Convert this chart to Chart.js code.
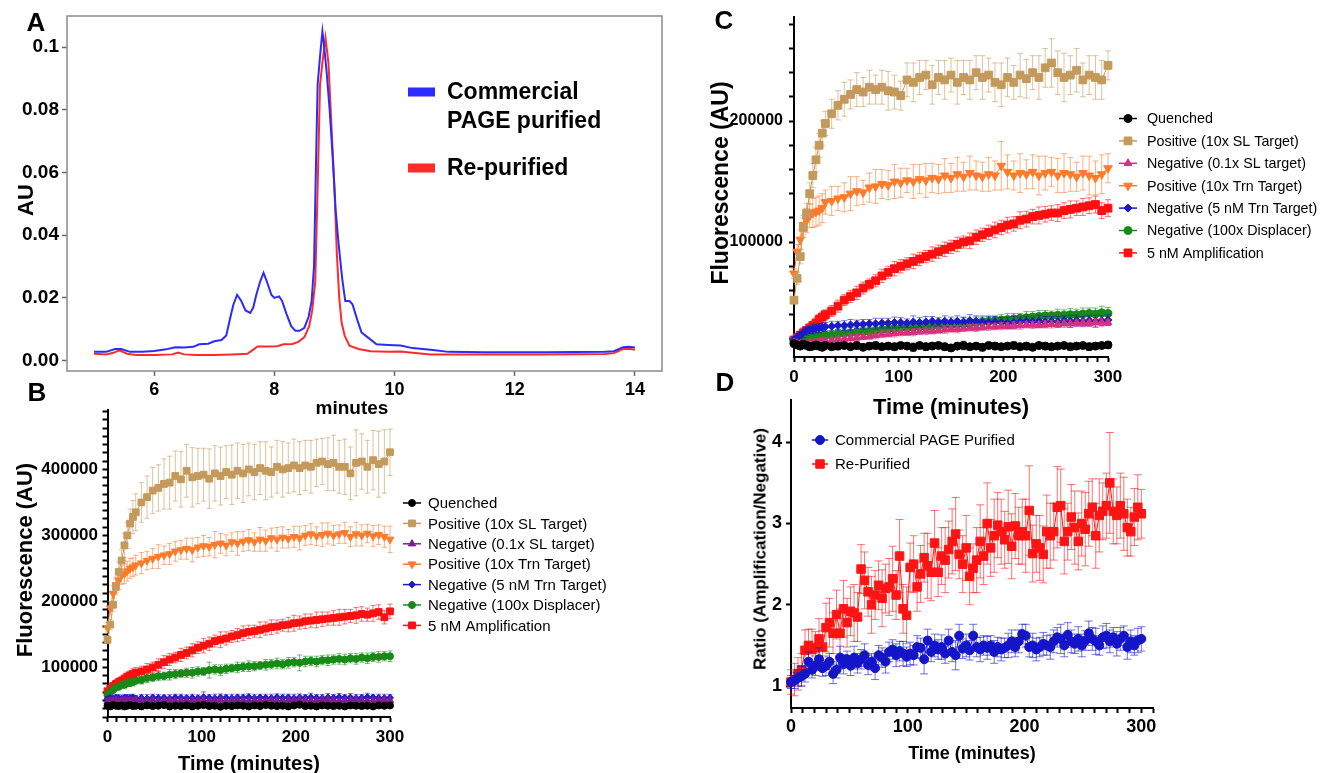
<!DOCTYPE html>
<html>
<head>
<meta charset="utf-8">
<script src="https://cdn.jsdelivr.net/npm/chart.js@4.4.1/dist/chart.umd.min.js"></script>
<style>
  html, body { margin: 0; padding: 0; background: #fff; }
  body { width: 1322px; height: 773px; position: relative; overflow: hidden;
         font-family: "Liberation Sans", Arial, sans-serif; }
  canvas { position: absolute; left: 0; top: 0; }
  .lbl { position: absolute; transform: translate(-50%, -50%); white-space: nowrap;
         font-weight: bold; color: #000; line-height: 1; z-index: 5; }
  .rot { transform: translate(-50%, -50%) rotate(-90deg); }
</style>
</head>
<body>
<canvas id="chartA" width="1322" height="773"></canvas>
<canvas id="chartB" width="1322" height="773"></canvas>
<canvas id="chartC" width="1322" height="773"></canvas>
<canvas id="chartD" width="1322" height="773"></canvas>

<div class="lbl" style="left:36px;top:22px;font-size:26px">A</div>
<div class="lbl" style="left:37px;top:392px;font-size:26px">B</div>
<div class="lbl" style="left:724px;top:20px;font-size:26px">C</div>
<div class="lbl" style="left:725px;top:382px;font-size:26px">D</div>
<div class="lbl rot" style="left:26px;top:200px;font-size:22px">AU</div>
<div class="lbl" style="left:352px;top:407px;font-size:19px">minutes</div>
<div class="lbl rot" style="left:25px;top:560px;font-size:22px">Fluorescence (AU)</div>
<div class="lbl" style="left:249px;top:763px;font-size:20px">Time (minutes)</div>
<div class="lbl rot" style="left:720px;top:183px;font-size:23px">Fluorescence (AU)</div>
<div class="lbl" style="left:951px;top:407px;font-size:22px">Time (minutes)</div>
<div class="lbl rot" style="left:760px;top:549px;font-size:17px">Ratio (Amplification/Negative)</div>
<div class="lbl" style="left:972px;top:753px;font-size:18px">Time (minutes)</div>

<script>
// ---------- panel A : chromatogram ----------
const aBlueX = [5.0,5.2,5.35,5.45,5.6,5.8,6.0,6.2,6.35,6.5,6.65,6.75,6.9,7.0,7.12,7.2,7.27,7.32,7.38,7.45,7.52,7.6,7.65,7.7,7.76,7.82,7.88,7.95,8.0,8.08,8.13,8.2,8.28,8.35,8.42,8.5,8.57,8.62,8.66,8.69,8.72,8.76,8.8,8.83,8.87,8.92,8.97,9.02,9.07,9.13,9.18,9.25,9.3,9.38,9.45,9.55,9.7,9.9,10.1,10.3,10.6,10.9,11.5,12.5,13.5,13.65,13.8,13.9,14.0];
const aBlueY = [0.0028,0.0028,0.0037,0.0037,0.0028,0.0028,0.0031,0.0036,0.0043,0.0042,0.0044,0.0052,0.0054,0.0062,0.0066,0.008,0.014,0.018,0.021,0.019,0.016,0.0152,0.017,0.021,0.025,0.028,0.025,0.021,0.020,0.0205,0.019,0.015,0.011,0.0095,0.0095,0.0105,0.014,0.019,0.03,0.06,0.088,0.097,0.105,0.1,0.092,0.08,0.065,0.048,0.037,0.026,0.019,0.019,0.018,0.013,0.009,0.0075,0.0052,0.005,0.0048,0.004,0.0035,0.0028,0.0027,0.0027,0.0028,0.003,0.0043,0.0044,0.0042];
const aRedX = [5.0,5.2,5.32,5.42,5.55,5.7,6.0,6.3,6.4,6.5,6.7,7.0,7.3,7.55,7.65,7.72,7.9,8.05,8.15,8.3,8.4,8.5,8.58,8.63,8.68,8.72,8.76,8.8,8.85,8.9,8.95,9.0,9.04,9.08,9.12,9.17,9.25,9.4,9.6,9.9,10.1,10.3,10.6,11.5,12.5,13.5,13.65,13.8,13.9,14.0];
const aRedY = [0.0022,0.002,0.0025,0.0033,0.0022,0.0018,0.0018,0.002,0.0026,0.002,0.0018,0.0018,0.002,0.0022,0.0035,0.0045,0.0045,0.0046,0.0052,0.0053,0.006,0.0075,0.011,0.016,0.025,0.055,0.088,0.095,0.103,0.095,0.075,0.055,0.034,0.02,0.012,0.008,0.0048,0.0037,0.003,0.0028,0.0029,0.0025,0.002,0.002,0.002,0.0021,0.0024,0.0037,0.0038,0.0035];
const aXTicks = [6, 8, 10, 12, 14];
const aYTicks = [0, 0.02, 0.04, 0.06, 0.08, 0.1];
const aYLabels = ['0.00', '0.02', '0.04', '0.06', '0.08', '0.1'];
const aLegendLines = [['Commercial', 'PAGE purified'], ['Re-purified']];

// ---------- panels B and C : time courses ----------
const seriesLabels = ['Quenched', 'Positive (10x SL Target)', 'Negative (0.1x SL target)',
  'Positive (10x Trn Target)', 'Negative (5 nM Trn Target)', 'Negative (100x Displacer)', '5 nM Amplification'];

const timeBC = [0,3,6,9,12,15,18,21,24,27,30,
  36,42,48,54,60,66,72,78,84,
  90,96,102,108,114,120,126,132,138,
  144,150,156,162,168,174,180,186,192,
  198,204,210,216,222,228,234,240,246,
  252,258,264,270,276,282,288,294,300];

const bQuenched = [42000,41000,43000,42000,41500,42500,41000,42000,43000,41500,42000,
  41000,42500,41500,42000,43000,41000,42000,41500,42500,
  41000,42000,43000,41500,42000,40500,42000,41500,42500,
  42000,41000,42500,41500,43000,42000,41500,42000,41000,
  42500,43500,41500,42000,41000,42500,42000,41500,42000,
  41000,42500,42000,41500,42000,41000,42500,42000,42500];
const bQuenchedErr = [3000,2500,3000,3500,2500,3000,3000,2500,3500,3000,3000,
  3000,3500,2500,3000,3000,3500,2500,3000,3000,
  3500,3000,2500,3000,3500,3000,3000,2500,3000,
  3000,3500,3000,2500,3000,3000,3500,3000,2500,
  3000,3500,3000,3000,2500,3000,3500,3000,3000,
  3000,2500,3000,3500,3000,3000,2500,3000,3000];
const bNeg01 = [49000,50000,49500,50500,49000,50000,50500,49500,50000,49000,50500,
  50000,49500,50500,49000,50000,50500,49500,50000,50500,
  49500,50000,51000,49500,50000,50500,49000,50000,50500,
  50000,49500,50500,50000,49500,51000,50000,49500,50500,
  50000,51000,50500,49500,50000,50500,51000,50000,49500,
  50500,50000,51000,50500,49500,50000,50500,51000,50000];
const bNeg01Err = [4000,4500,4000,5000,4500,4000,5000,4500,4000,5000,4500,
  4500,5000,4000,4500,5000,4500,4000,5000,4500,
  5000,4500,4000,5000,4500,4500,5000,4000,4500,
  4500,5000,4500,4000,5000,4500,5000,4500,4000,
  5000,4500,5000,4500,4000,5000,4500,5000,4500,
  4500,5000,4500,5000,4000,4500,5000,4500,5000];
const bNeg5 = [52000,53000,52500,54000,53000,52500,54000,53500,53000,54500,53000,
  54000,53000,54500,53500,54000,53000,54500,54000,53500,
  54000,53500,55000,54000,53500,54500,54000,53500,54500,
  54000,55000,53500,54500,54000,53500,55000,54000,54500,
  53500,54500,54000,55000,54000,53500,54500,54000,55000,
  54000,54500,53500,54000,55000,54500,54000,53500,54000];
const bNeg5Err = [4000,5000,4500,5000,6000,4500,5000,5500,6000,5000,4500,
  5000,6000,5000,5500,4500,6000,5000,5500,5000,
  5500,5000,8000,5000,6000,5500,5000,6000,5000,
  5500,5000,6000,5000,5500,6000,5000,5500,5000,
  6000,5500,5000,6000,5000,5500,6000,5000,5500,
  5000,6000,5500,5000,6000,5000,5500,6000,5000];
const bDisp = [58000,63000,66000,70000,71000,74000,74000,76000,77000,78000,80000,
  81000,84000,85000,87000,87000,89000,90000,91000,92000,
  92000,94000,94000,96000,97000,96000,98000,99000,100000,
  101000,102000,102000,103000,104000,105000,106000,105000,107000,
  108000,107000,109000,110000,109000,111000,111000,112000,113000,
  112000,114000,113000,115000,114000,116000,116000,117000,117000];
const bDispErr = [3000,4000,4000,5000,5000,5000,6000,5000,6000,6000,5000,
  6000,7000,6000,7000,6000,8000,7000,6000,7000,
  8000,7000,6000,12000,7000,8000,7000,6000,8000,
  7000,8000,7000,6000,8000,7000,8000,7000,8000,
  7000,12000,8000,7000,8000,7000,8000,7000,8000,
  8000,7000,8000,7000,8000,7000,8000,7000,8000];
const bAmp = [64000,68000,72000,75000,78000,80000,83000,86000,88000,90000,92000,
  94000,97000,100000,104000,108000,112000,115000,119000,122000,
  126000,130000,133000,136000,140000,142000,144000,147000,149000,
  152000,154000,155000,157000,159000,161000,162000,164000,165000,
  167000,168000,170000,171000,172000,173000,174000,175000,176000,
  177000,178000,179000,181000,180000,182000,184000,176000,185000];
const bAmpErr = [4000,5000,5000,6000,6000,6000,7000,7000,7000,8000,8000,
  8000,9000,8000,9000,10000,9000,8000,10000,9000,
  10000,9000,11000,10000,9000,12000,10000,9000,10000,
  11000,10000,9000,12000,10000,11000,10000,9000,11000,
  12000,10000,11000,10000,12000,11000,10000,11000,12000,
  11000,10000,12000,11000,10000,12000,11000,10000,11000];
const bTrn = [160000,190000,212000,225000,232000,240000,242000,246000,250000,252000,255000,
  258000,262000,265000,268000,270000,272000,276000,278000,280000,
  278000,282000,284000,283000,286000,288000,285000,290000,288000,
  291000,293000,290000,294000,292000,296000,294000,297000,295000,
  298000,296000,300000,302000,299000,301000,303000,300000,302000,
  304000,298000,302000,300000,303000,299000,301000,298000,294000];
const bTrnErr = [8000,10000,12000,12000,14000,14000,15000,15000,15000,14000,15000,
  16000,14000,15000,18000,14000,16000,15000,14000,16000,
  18000,15000,16000,14000,20000,15000,16000,14000,18000,
  15000,16000,14000,18000,16000,15000,18000,16000,14000,
  16000,18000,15000,16000,14000,18000,16000,15000,14000,
  16000,15000,18000,16000,14000,16000,15000,16000,20000];
const bSL = [142000,165000,195000,222000,245000,262000,285000,300000,318000,328000,335000,
  350000,358000,368000,372000,378000,380000,390000,385000,398000,
  388000,390000,392000,386000,394000,390000,396000,392000,398000,
  394000,400000,396000,402000,398000,396000,404000,400000,402000,
  406000,402000,406000,404000,410000,412000,408000,410000,404000,
  404000,394000,410000,412000,404000,414000,408000,412000,426000];
const bSLErr = [6000,8000,10000,12000,15000,16000,18000,20000,22000,25000,28000,
  30000,32000,35000,35000,38000,40000,38000,42000,40000,
  45000,42000,40000,45000,42000,44000,40000,45000,42000,
  44000,40000,42000,40000,44000,38000,40000,42000,38000,
  40000,40000,38000,40000,36000,35000,40000,42000,40000,
  42000,40000,50000,42000,40000,45000,50000,48000,35000];

const cQuenched = [16000,15000,14000,15500,14500,13500,14000,15000,14000,13000,14500,
  13500,14000,14500,13500,14500,13000,14000,14500,13500,
  14000,13500,14500,14000,13000,14500,13500,14000,14500,
  13500,12500,14000,14500,13500,14000,13000,14500,14000,
  13500,14000,14500,13500,14000,13000,14500,14000,13500,
  14000,14500,13500,14000,14500,13500,14000,14500,15000];
const cQuenchedErr = [2000,2500,2000,3000,2500,3000,2500,2000,3000,2500,2000,
  2500,3000,2500,2000,3000,2500,2500,3000,2000,
  2500,3000,2500,2000,3500,2500,3000,2500,2000,
  3000,2500,2000,3500,2500,2000,3000,2500,3000,
  2500,2000,3000,2500,3000,2500,2000,3000,2500,
  2000,2500,3000,2500,2000,3000,2500,2000,2500];
const cNeg01 = [17000,16500,16000,16000,16000,16500,16500,17000,17500,18000,18000,
  18500,19500,20000,20500,21000,21500,22000,23000,23500,
  24000,24500,25000,25000,25500,26000,26500,26500,27000,
  27500,28000,28000,28500,29000,29000,29500,30000,30000,
  30500,30500,31000,31000,31500,31500,31500,32000,32000,
  32000,32500,32500,33000,33000,33000,33500,33500,33500];
const cNeg01Err = [2000,2000,2500,2000,2500,2000,2500,2000,2500,2000,2500,
  2500,2000,2500,3000,2500,2000,2500,3000,2500,
  2500,3000,2500,2000,3000,2500,3000,2500,2500,
  3000,2500,3000,2500,2500,3000,2500,3000,2500,
  3000,2500,3000,3000,2500,3000,2500,3000,3000,
  2500,3000,3000,2500,3000,2500,3000,3000,2500];
const cNeg5 = [19000,21000,23000,25000,26500,27500,28000,28500,29000,29500,30000,
  30500,31000,31000,31500,32000,32000,32500,32500,33000,
  33000,33500,33500,33000,34000,33500,34000,34500,34000,
  34500,34000,34500,34000,35000,34500,34000,33500,34000,
  33500,33000,33500,34000,34500,34000,34500,34000,34500,
  34000,35000,34500,35000,34500,35000,34500,35000,35500];
const cNeg5Err = [3000,3500,3000,4000,3500,3000,4000,3500,4000,3000,3500,
  4000,3500,4000,4500,3500,4000,3500,4500,4000,
  4000,4500,4000,3500,5000,4000,4500,4000,3500,
  4500,4000,4500,4000,5000,4500,4000,5000,4500,
  4000,4500,5000,4000,4500,4000,5000,4500,4000,
  4500,4000,5000,4500,4000,4500,5000,4000,4500];
const cDisp = [19000,19500,20000,20500,21000,21000,21500,22000,22000,22500,23000,
  23000,24000,24500,25000,25500,26000,26000,27000,27500,
  28000,28500,29000,29000,29500,30000,30000,30500,31000,
  31500,31500,32000,32500,33000,33500,34000,34500,35000,
  35500,36000,36500,37000,37500,38000,38500,39000,39000,
  39500,39500,40000,40000,40500,41000,40500,41500,41000];
const cDispErr = [3000,3000,3500,3000,3500,3000,3500,3000,3500,4000,3500,
  4000,3500,4000,4500,4000,3500,4000,4500,4000,
  4000,4500,4000,3500,4500,4000,4500,4000,4500,
  4500,4000,4500,5000,4000,4500,5000,4500,4000,
  4500,5000,4500,4000,5000,4500,5000,4500,4000,
  5000,4500,5000,4500,5000,4500,5000,5500,5000];
const cAmp = [19000,21000,23000,25000,27000,29000,31000,33000,36000,38000,40000,
  43000,47000,52000,55000,58000,62000,65000,68000,72000,
  75000,78000,80000,82000,84000,86000,88000,90000,92000,
  94000,96000,98000,100000,101000,104000,106000,108000,110000,
  112000,114000,115000,118000,119000,121000,122000,123000,124000,
  124000,126000,127000,128000,129000,130000,131000,126000,128000];
const cAmpErr = [2000,2500,3000,3000,3000,3500,3500,4000,4000,4000,4000,
  4500,5000,4500,5000,5500,5000,4500,5000,5500,
  5000,6000,5500,5000,6000,5500,5000,6000,5500,
  6000,5500,6000,5000,6500,6000,5500,6000,6500,
  6000,6500,6000,7000,6500,6000,7000,6500,6000,
  7000,6500,7000,6000,7000,6500,7000,6500,7000];
const cTrn = [74000,92000,102000,114000,118000,122000,124000,125000,126000,128000,133000,
  134000,136000,137000,140000,142000,141000,145000,146000,148000,
  147000,150000,149000,151000,150000,152000,151000,153000,152000,
  155000,153000,156000,154000,157000,155000,154000,156000,155000,
  163000,158000,155000,157000,156000,158000,155000,157000,158000,
  155000,157000,156000,154000,157000,155000,153000,156000,161000];
const cTrnErr = [4000,6000,8000,8000,10000,10000,12000,12000,12000,12000,10000,
  12000,10000,12000,14000,12000,10000,12000,14000,12000,
  12000,14000,12000,10000,14000,12000,14000,12000,12000,
  14000,12000,14000,12000,14000,12000,12000,14000,12000,
  20000,14000,12000,16000,12000,14000,16000,14000,12000,
  14000,16000,14000,12000,14000,16000,14000,16000,12000];
const cSL = [52000,70000,88000,112000,124000,140000,155000,168000,180000,190000,198000,
  206000,213000,218000,222000,226000,224000,228000,226000,228000,
  225000,224000,221000,234000,232000,236000,238000,230000,236000,
  234000,238000,232000,236000,234000,240000,236000,238000,232000,
  230000,236000,232000,238000,235000,240000,236000,244000,248000,
  240000,236000,238000,242000,234000,238000,236000,234000,246000];
const cSLErr = [3000,5000,6000,8000,8000,9000,10000,10000,10000,10000,10000,
  12000,12000,14000,12000,14000,12000,14000,12000,14000,
  16000,14000,12000,14000,16000,14000,12000,16000,14000,
  16000,14000,18000,14000,16000,14000,18000,14000,16000,
  18000,16000,14000,18000,16000,14000,18000,16000,20000,
  18000,20000,16000,18000,14000,16000,18000,16000,12000];

const bcXMajor = [0, 100, 200, 300];
const bYMajor = [100000, 200000, 300000, 400000];
const cYMajor = [100000, 200000];

// ---------- panel D : ratio ----------
const timeD = [0,3,6,9,12,15,18,21,24,27,30,33,36,39,42,45,48,51,54,57,
  60,63,66,69,72,75,78,81,84,87,90,93,96,99,102,105,108,111,114,117,
  120,123,126,129,132,135,138,141,144,147,150,153,156,159,162,165,168,171,174,177,
  180,183,186,189,192,195,198,201,204,207,210,213,216,219,222,225,228,231,234,237,
  240,243,246,249,252,255,258,261,264,267,270,273,276,279,282,285,288,291,294,297,300];
const dLabels = ['Commercial PAGE Purified', 'Re-Purified'];
const dBlue = [1.05,1.07,1.10,1.12,1.15,1.30,1.20,1.25,1.33,1.22,
  1.25,1.30,1.15,1.20,1.35,1.27,1.33,1.25,1.35,1.28,
  1.33,1.38,1.26,1.30,1.22,1.38,1.35,1.30,1.42,1.45,
  1.38,1.43,1.40,1.36,1.40,1.38,1.48,1.47,1.33,1.56,
  1.42,1.50,1.45,1.48,1.40,1.56,1.42,1.38,1.62,1.46,
  1.50,1.44,1.62,1.48,1.45,1.50,1.47,1.50,1.42,1.48,
  1.45,1.47,1.50,1.55,1.48,1.55,1.64,1.62,1.48,1.50,
  1.45,1.48,1.52,1.50,1.48,1.55,1.60,1.58,1.50,1.63,
  1.55,1.52,1.58,1.50,1.56,1.65,1.58,1.55,1.50,1.60,
  1.62,1.55,1.60,1.52,1.58,1.62,1.48,1.55,1.50,1.56,1.58];
const dBlueErr = [0.08,0.1,0.1,0.12,0.1,0.12,0.1,0.12,0.14,0.1,
  0.12,0.1,0.12,0.1,0.14,0.12,0.1,0.12,0.14,0.12,
  0.12,0.14,0.12,0.1,0.14,0.12,0.12,0.14,0.12,0.12,
  0.14,0.12,0.15,0.12,0.14,0.12,0.14,0.12,0.18,0.14,
  0.12,0.14,0.12,0.15,0.12,0.14,0.12,0.18,0.14,0.12,
  0.14,0.12,0.14,0.12,0.15,0.12,0.14,0.12,0.14,0.12,
  0.14,0.12,0.15,0.14,0.12,0.14,0.12,0.14,0.12,0.15,
  0.14,0.12,0.14,0.12,0.15,0.14,0.12,0.18,0.14,0.15,
  0.14,0.12,0.15,0.14,0.12,0.15,0.14,0.16,0.12,0.14,
  0.15,0.14,0.12,0.15,0.14,0.12,0.15,0.14,0.12,0.15,0.15];
const dRed = [1.05,1.08,1.15,1.20,1.44,1.50,1.45,1.47,1.58,1.48,
  1.72,1.78,1.65,1.88,1.65,1.95,1.78,1.92,1.90,1.85,
  2.44,2.30,2.16,2.00,2.12,2.24,2.08,2.20,2.22,2.32,
  2.12,2.60,1.95,1.87,2.46,2.50,2.22,2.38,2.58,2.48,
  2.40,2.76,2.40,2.60,2.55,2.68,2.78,2.87,2.62,2.50,
  2.70,2.35,2.45,2.55,2.78,2.60,3.00,2.70,2.85,2.98,
  2.90,2.80,2.96,2.72,2.97,2.85,2.90,2.85,3.16,2.63,
  2.75,2.70,2.62,2.90,2.85,2.90,3.20,3.22,2.78,2.90,
  3.08,2.95,2.78,3.00,2.93,3.12,3.20,2.85,3.10,3.15,
  3.22,3.50,3.15,3.10,3.22,3.12,2.95,2.90,3.08,3.20,3.12];
const dRedErr = [0.15,0.2,0.2,0.2,0.25,0.2,0.25,0.2,0.25,0.2,
  0.3,0.3,0.25,0.3,0.3,0.35,0.3,0.3,0.35,0.3,
  0.3,0.35,0.3,0.35,0.3,0.3,0.35,0.3,0.35,0.4,
  0.3,0.45,0.3,0.35,0.3,0.35,0.3,0.35,0.3,0.4,
  0.35,0.4,0.3,0.35,0.4,0.35,0.4,0.45,0.3,0.35,
  0.4,0.35,0.3,0.4,0.45,0.35,0.5,0.35,0.45,0.4,
  0.4,0.35,0.45,0.4,0.4,0.35,0.4,0.45,0.55,0.35,
  0.35,0.4,0.35,0.45,0.4,0.35,0.5,0.45,0.4,0.35,
  0.4,0.45,0.35,0.4,0.45,0.4,0.35,0.4,0.45,0.35,
  0.4,0.62,0.4,0.35,0.4,0.45,0.35,0.3,0.35,0.4,0.3];
const dXMajor = [0, 100, 200, 300];
const dYTicks = [1, 2, 3, 4];

// ---------- helpers ----------
const FONT = '"Liberation Sans", Arial, sans-serif';

function toPoints(xs, ys) {
  return xs.map((x, i) => ({ x: x, y: ys[i] }));
}

function tickRange(from, to, step) {
  const out = [];
  for (let v = from; v <= to + 1e-9; v += step) out.push(v);
  return out;
}

function rgba(hex, a) {
  const n = parseInt(hex.slice(1), 16);
  return 'rgba(' + (n >> 16) + ',' + ((n >> 8) & 255) + ',' + (n & 255) + ',' + a + ')';
}

function series(label, color, style, rot, r, xs, ys, errs, cap) {
  return {
    label: label,
    data: toPoints(xs, ys),
    errors: errs,
    errorColor: rgba(color, 0.6),
    errorCap: cap,
    showLine: true,
    borderColor: color,
    borderWidth: 1,
    backgroundColor: color,
    pointBackgroundColor: color,
    pointBorderColor: color,
    pointBorderWidth: 1,
    pointStyle: style,
    pointRotation: rot,
    pointRadius: r,
    pointHoverRadius: r,
    clip: false
  };
}

function drawMarker(ctx, style, x, y, r, rot) {
  ctx.beginPath();
  if (style === 'circle') {
    ctx.arc(x, y, r, 0, Math.PI * 2);
  } else if (style === 'rect') {
    const s = r * Math.SQRT1_2;
    ctx.rect(x - s, y - s, 2 * s, 2 * s);
  } else if (style === 'rectRot') {
    ctx.moveTo(x, y - r); ctx.lineTo(x + r, y); ctx.lineTo(x, y + r); ctx.lineTo(x - r, y);
    ctx.closePath();
  } else if (style === 'triangle') {
    let a = (rot || 0) * Math.PI / 180;
    ctx.moveTo(x + Math.sin(a) * r, y - Math.cos(a) * r);
    a += Math.PI * 2 / 3;
    ctx.lineTo(x + Math.sin(a) * r, y - Math.cos(a) * r);
    a += Math.PI * 2 / 3;
    ctx.lineTo(x + Math.sin(a) * r, y - Math.cos(a) * r);
    ctx.closePath();
  }
  ctx.fill();
  ctx.stroke();
}

// error bars under each dataset's own markers
const errorBarPlugin = {
  id: 'errorBars',
  beforeDatasetDraw(chart, args) {
    const ds = chart.data.datasets[args.index];
    if (!ds.errors) return;
    const xs = chart.scales.x, ys = chart.scales.y, ctx = chart.ctx;
    const cap = ds.errorCap;
    ctx.save();
    ctx.strokeStyle = ds.errorColor;
    ctx.lineWidth = 1;
    ctx.beginPath();
    ds.data.forEach((p, j) => {
      const e = ds.errors[j];
      const x = xs.getPixelForValue(p.x);
      const y1 = ys.getPixelForValue(p.y + e);
      const y2 = ys.getPixelForValue(p.y - e);
      ctx.moveTo(x, y1); ctx.lineTo(x, y2);
      ctx.moveTo(x - cap, y1); ctx.lineTo(x + cap, y1);
      ctx.moveTo(x - cap, y2); ctx.lineTo(x + cap, y2);
    });
    ctx.stroke();
    ctx.restore();
  }
};

// legend drawn at a fixed spot beside the plot
const sideLegendPlugin = {
  id: 'sideLegend',
  afterDraw(chart, args, opts) {
    if (!opts || opts.x === undefined) return;
    const ctx = chart.ctx;
    ctx.save();
    ctx.font = opts.font;
    ctx.textBaseline = 'middle';
    chart.data.datasets.forEach((ds, i) => {
      const y = opts.y + i * opts.step;
      if (opts.bars) {
        const lines = opts.lines[i];
        const rowY = opts.rowY[i];
        ctx.fillStyle = ds.borderColor;
        ctx.fillRect(opts.x, rowY - 4.5, 27, 9);
        ctx.fillStyle = '#000';
        lines.forEach((t, k) => ctx.fillText(t, opts.textX, rowY + 1 + k * opts.lineGap));
        return;
      }
      ctx.strokeStyle = ds.borderColor;
      ctx.fillStyle = ds.borderColor;
      ctx.lineWidth = 1.5;
      ctx.beginPath();
      ctx.moveTo(opts.x - opts.half, y); ctx.lineTo(opts.x + opts.half, y);
      ctx.stroke();
      ctx.lineWidth = 1;
      drawMarker(ctx, ds.pointStyle, opts.x, y, ds.pointRadius, ds.pointRotation);
      ctx.fillStyle = '#000';
      ctx.fillText(ds.label, opts.textX, y + 1);
    });
    ctx.restore();
  }
};

// grey frame round panel A
const framePlugin = {
  id: 'frame',
  afterDraw(chart, args, opts) {
    if (!opts || !opts.color) return;
    const a = chart.chartArea, ctx = chart.ctx;
    ctx.save();
    ctx.strokeStyle = opts.color;
    ctx.lineWidth = 1.5;
    ctx.strokeRect(a.left, a.top, a.right - a.left, a.bottom - a.top);
    ctx.restore();
  }
};

Chart.register(errorBarPlugin, sideLegendPlugin, framePlugin);

function axis(opts) {
  return {
    type: 'linear',
    min: opts.min,
    max: opts.max,
    afterFit: opts.fit,
    afterBuildTicks: (s) => { s.ticks = opts.ticks.map(v => ({ value: v })); },
    ticks: {
      autoSkip: false,
      maxRotation: 0,
      color: '#000',
      padding: opts.pad,
      font: { family: FONT, size: opts.size, weight: 'bold', lineHeight: 1.2 },
      callback: opts.label
    },
    grid: {
      drawOnChartArea: false,
      drawTicks: true,
      tickLength: 5,
      tickColor: opts.tickColor || '#000',
      tickWidth: opts.tickWidth || 2
    },
    border: { display: opts.border !== false, color: '#000', width: 2 }
  };
}

const baseOptions = (padding, scales, plugins) => ({
  responsive: false,
  animation: false,
  devicePixelRatio: 1,
  events: [],
  layout: { padding: padding },
  scales: scales,
  plugins: Object.assign({ legend: { display: false }, tooltip: { enabled: false } }, plugins)
});

// ---------- chart A ----------
const aData = {
  datasets: [
    { label: 'Commercial PAGE purified', data: toPoints(aBlueX, aBlueY), showLine: true,
      borderColor: '#2B2BFF', borderWidth: 2, pointRadius: 0, tension: 0 },
    { label: 'Re-purified', data: toPoints(aRedX, aRedY), showLine: true,
      borderColor: '#FF2B2B', borderWidth: 2, pointRadius: 0, tension: 0 }
  ]
};
const aConfig = {
  type: 'scatter',
  data: aData,
  options: baseOptions(
    { left: 7, right: 660, top: 16, bottom: 362 },
    {
      x: axis({ min: 4.55, max: 14.45, ticks: aXTicks, size: 18, pad: 3, border: false,
        tickColor: '#666', tickWidth: 1.5,
        fit: (s) => { s.height = 40; }, label: (v) => String(v) }),
      y: axis({ min: -0.0033, max: 0.1099, ticks: aYTicks, size: 19, pad: 3, border: false,
        tickColor: '#666', tickWidth: 1.5,
        fit: (s) => { s.width = 60; }, label: (v, i) => aYLabels[i] })
    },
    {
      frame: { color: '#8a8a8a' },
      sideLegend: { bars: true, x: 408, textX: 447, font: 'bold 23px ' + FONT,
        lines: aLegendLines, rowY: [92, 168], lineGap: 29, y: 0, step: 0 }
    })
};
const chartA = new Chart(document.getElementById('chartA'), aConfig);

// ---------- chart B ----------
const bData = {
  datasets: [
    series(seriesLabels[0], '#000000', 'circle', 0, 3.5, timeBC, bQuenched, bQuenchedErr, 2.5),
    series(seriesLabels[1], '#C49A5C', 'rect', 0, 4.8, timeBC, bSL, bSLErr, 2.5),
    series(seriesLabels[2], '#7B1E91', 'triangle', 0, 4.2, timeBC, bNeg01, bNeg01Err, 2.5),
    series(seriesLabels[3], '#FF7A2A', 'triangle', 180, 4.5, timeBC, bTrn, bTrnErr, 2.5),
    series(seriesLabels[4], '#1A1AC8', 'rectRot', 0, 3.5, timeBC, bNeg5, bNeg5Err, 2.5),
    series(seriesLabels[5], '#178A17', 'circle', 0, 3.5, timeBC, bDisp, bDispErr, 2.5),
    series(seriesLabels[6], '#FF1010', 'rect', 0, 4.8, timeBC, bAmp, bAmpErr, 2.5)
  ]
};
const bConfig = {
  type: 'scatter',
  data: bData,
  options: baseOptions(
    { left: 17.5, right: 932, top: 410, bottom: 6 },
    {
      x: axis({ min: 0, max: 300, ticks: tickRange(0, 300, 10), size: 17, pad: 4.8,
        fit: (s) => { s.height = 50; }, label: (v) => bcXMajor.includes(v) ? String(v) : '' }),
      y: axis({ min: 25000, max: 490000, ticks: tickRange(25000, 487500, 12500), size: 17, pad: 4.5,
        fit: (s) => { s.width = 90; }, label: (v) => bYMajor.includes(v) ? String(v) : '' })
    },
    { sideLegend: { x: 412, half: 9, textX: 428, y: 503, step: 20.4, font: '15px ' + FONT } })
};
const chartB = new Chart(document.getElementById('chartB'), bConfig);

// ---------- chart C ----------
const cData = {
  datasets: [
    series(seriesLabels[0], '#000000', 'circle', 0, 4, timeBC, cQuenched, cQuenchedErr, 3),
    series(seriesLabels[1], '#C49A5C', 'rect', 0, 5.5, timeBC, cSL, cSLErr, 3),
    series(seriesLabels[2], '#D4317F', 'triangle', 0, 4.5, timeBC, cNeg01, cNeg01Err, 3),
    series(seriesLabels[3], '#FF7A2A', 'triangle', 180, 5, timeBC, cTrn, cTrnErr, 3),
    series(seriesLabels[4], '#1A1AC8', 'rectRot', 0, 4, timeBC, cNeg5, cNeg5Err, 3),
    series(seriesLabels[5], '#178A17', 'circle', 0, 4, timeBC, cDisp, cDispErr, 3),
    series(seriesLabels[6], '#FF1010', 'rect', 0, 5.5, timeBC, cAmp, cAmpErr, 3)
  ]
};
const cConfig = {
  type: 'scatter',
  data: cData,
  options: baseOptions(
    { left: 714, right: 214, top: 17, bottom: 376 },
    {
      x: axis({ min: 0, max: 300, ticks: tickRange(0, 300, 10), size: 17, pad: 4.8,
        fit: (s) => { s.height = 40; }, label: (v) => bcXMajor.includes(v) ? String(v) : '' }),
      y: axis({ min: 5000, max: 286000, ticks: tickRange(20000, 280000, 20000), size: 16, pad: 6,
        fit: (s) => { s.width = 80; }, label: (v) => cYMajor.includes(v) ? String(v) : '' })
    },
    { sideLegend: { x: 1128, half: 9, textX: 1147, y: 118.5, step: 22.4, font: '14.3px ' + FONT } })
};
const chartC = new Chart(document.getElementById('chartC'), cConfig);

// ---------- chart D ----------
const dData = {
  datasets: [
    series(dLabels[0], '#1414C8', 'circle', 0, 4.5, timeD, dBlue, dBlueErr, 4),
    series(dLabels[1], '#FF1414', 'rect', 0, 6, timeD, dRed, dRedErr, 4)
  ]
};
const dConfig = {
  type: 'scatter',
  data: dData,
  options: baseOptions(
    { left: 751, right: 169, top: 400, bottom: 25 },
    {
      x: axis({ min: 0, max: 310, ticks: tickRange(0, 310, 10), size: 18, pad: 3.2,
        fit: (s) => { s.height = 40; }, label: (v) => dXMajor.includes(v) ? String(v) : '' }),
      y: axis({ min: 0.73, max: 4.52, ticks: dYTicks, size: 18, pad: 4,
        fit: (s) => { s.width = 40; }, label: (v) => String(v) })
    },
    { sideLegend: { x: 820, half: 8, textX: 835, y: 440, step: 24, font: '15px ' + FONT } })
};
const chartD = new Chart(document.getElementById('chartD'), dConfig);
</script>
</body>
</html>
